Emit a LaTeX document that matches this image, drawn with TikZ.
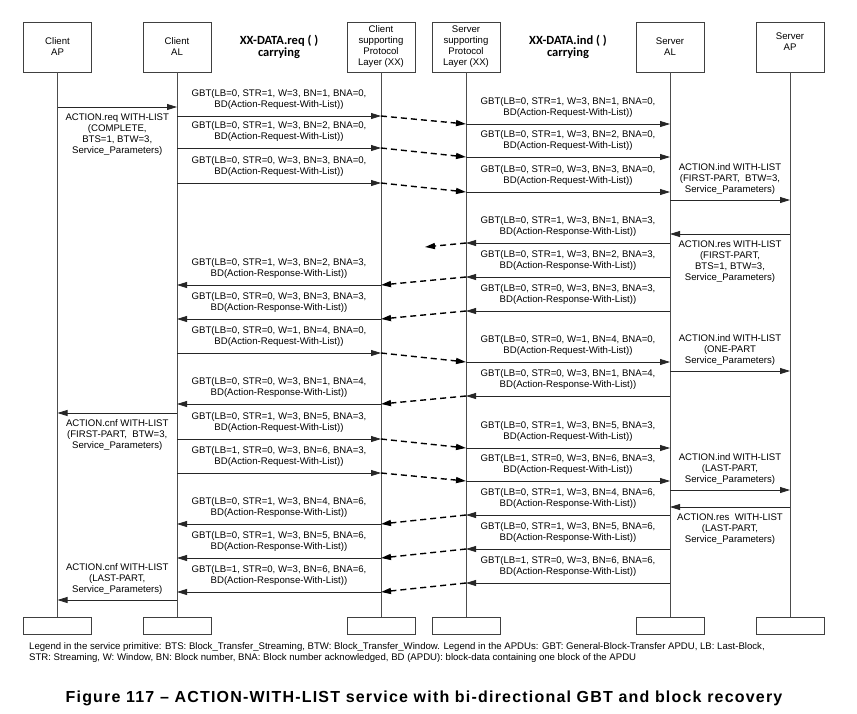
\documentclass[tikz,border=0pt]{standalone}
\usepackage{fontspec}
\setmainfont{Liberation Sans}
\newfontfamily\headfont{Carlito}
\newfontfamily\capfont[LetterSpace=7.5]{Liberation Sans}
\usetikzlibrary{arrows.meta}

\begin{document}
\begin{tikzpicture}[x=1pt,y=-1pt,
        box/.style = {draw=black!75, line width=0.9pt, minimum width=68pt, minimum height=50pt,
            inner sep=0pt, align=center, font=\fontsize{9.6}{11}\selectfont},
        life/.style = {draw=black!70, line width=0.9pt},
        msg/.style = {draw=black!85, line width=0.8pt, -{Triangle[length=10pt,width=6pt]}},
        lost/.style = {msg, draw=black, line width=1.4pt, dash pattern=on 6pt off 4pt},
        lbl/.style = {font=\fontsize{9.6}{11}\selectfont, align=center, inner sep=0pt},
        head/.style = {font=\headfont\bfseries\fontsize{12.5}{12}\selectfont, align=center, inner sep=0pt}]
    \fill [white] (0,0) rectangle (857,713);
    \useasboundingbox (0,0) rectangle (857,713);

    \node [box] (cap) at (57.5,47) {Client\\AP};
    \node [box] (cal) at (177,47) {Client\\AL};
    \node [box] (cxx) at (381,47) {Client\\supporting\\Protocol\\Layer (XX)};
    \node [box] (sxx) at (466,47) {Server\\supporting\\Protocol\\Layer (XX)};
    \node [box] (sal) at (670,47) {Server\\AL};
    \node [box] (sap) at (790,47) {Server\\AP\\~};

    \node [box, minimum height=17pt] (capb) at (57.5,625.5) {};
    \node [box, minimum height=17pt] (calb) at (177,625.5) {};
    \node [box, minimum height=17pt] (cxxb) at (381,625.5) {};
    \node [box, minimum height=17pt] (sxxb) at (466,625.5) {};
    \node [box, minimum height=17pt] (salb) at (670,625.5) {};
    \node [box, minimum height=17pt] (sapb) at (790,625.5) {};

    \foreach \n in {cap,cal,cxx,sxx,sal,sap}
        \draw [life] (\n) -- (\n b);

    \node [head] (reqhead) at (279,47) {XX-DATA.req ( )\\carrying};
    \node [head] (indhead) at (568,47) {XX-DATA.ind ( )\\carrying};

    \draw [msg] (cap |- 0,107) -- (cal |- 0,107)
        node [lbl, midway, below=6pt] {ACTION.req WITH-LIST\\(COMPLETE,\\BTS=1, BTW=3,\\Service\_Parameters)};

    \draw [msg] (cal |- 0,116) -- node [lbl, above=6pt] {GBT(LB=0, STR=1, W=3, BN=1, BNA=0,\\BD(Action-Request-With-List))} (cxx |- 0,116);
    \draw [lost] (cxx |- 0,116) -- (sxx |- 0,124);
    \draw [msg] (sxx |- 0,124) -- node [lbl, above=6pt] {GBT(LB=0, STR=1, W=3, BN=1, BNA=0,\\BD(Action-Request-With-List))} (sal |- 0,124);

    \draw [msg] (cal |- 0,148) -- node [lbl, above=6pt] {GBT(LB=0, STR=1, W=3, BN=2, BNA=0,\\BD(Action-Request-With-List))} (cxx |- 0,148);
    \draw [lost] (cxx |- 0,148) -- (sxx |- 0,157);
    \draw [msg] (sxx |- 0,157) -- node [lbl, above=6pt] {GBT(LB=0, STR=1, W=3, BN=2, BNA=0,\\BD(Action-Request-With-List))} (sal |- 0,157);

    \draw [msg] (cal |- 0,183) -- node [lbl, above=6pt] {GBT(LB=0, STR=0, W=3, BN=3, BNA=0,\\BD(Action-Request-With-List))} (cxx |- 0,183);
    \draw [lost] (cxx |- 0,183) -- (sxx |- 0,192);
    \draw [msg] (sxx |- 0,192) -- node [lbl, above=6pt] {GBT(LB=0, STR=0, W=3, BN=3, BNA=0,\\BD(Action-Request-With-List))} (sal |- 0,192);

    \draw [msg] (sal |- 0,200) -- node [lbl, above=5pt] {ACTION.ind WITH-LIST\\(FIRST-PART,~ BTW=3,\\Service\_Parameters)} (sap |- 0,200);
    \draw [msg] (sap |- 0,234) -- node [lbl, below=6pt] {ACTION.res WITH-LIST\\(FIRST-PART,\\BTS=1, BTW=3,\\Service\_Parameters)} (sal |- 0,234);

    \coordinate (drop) at (425,247);
    \draw [msg] (sal |- 0,243) -- node [lbl, above=6pt] {GBT(LB=0, STR=1, W=3, BN=1, BNA=3,\\BD(Action-Response-With-List))} (sxx |- 0,243);
    \draw [lost] (sxx |- 0,243) -- (drop);

    \draw [msg] (sal |- 0,277) -- node [lbl, above=6pt] {GBT(LB=0, STR=1, W=3, BN=2, BNA=3,\\BD(Action-Response-With-List))} (sxx |- 0,277);
    \draw [lost] (sxx |- 0,277) -- (cxx |- 0,285);
    \draw [msg] (cxx |- 0,285) -- node [lbl, above=6pt] {GBT(LB=0, STR=1, W=3, BN=2, BNA=3,\\BD(Action-Response-With-List))} (cal |- 0,285);

    \draw [msg] (sal |- 0,311) -- node [lbl, above=6pt] {GBT(LB=0, STR=0, W=3, BN=3, BNA=3,\\BD(Action-Response-With-List))} (sxx |- 0,311);
    \draw [lost] (sxx |- 0,311) -- (cxx |- 0,319);
    \draw [msg] (cxx |- 0,319) -- node [lbl, above=6pt] {GBT(LB=0, STR=0, W=3, BN=3, BNA=3,\\BD(Action-Response-With-List))} (cal |- 0,319);

    \draw [msg] (cal |- 0,353) -- node [lbl, above=6pt] {GBT(LB=0, STR=0, W=1, BN=4, BNA=0,\\BD(Action-Request-With-List))} (cxx |- 0,353);
    \draw [lost] (cxx |- 0,353) -- (sxx |- 0,362);
    \draw [msg] (sxx |- 0,362) -- node [lbl, above=6pt] {GBT(LB=0, STR=0, W=1, BN=4, BNA=0,\\BD(Action-Request-With-List))} (sal |- 0,362);

    \draw [msg] (sal |- 0,371) -- node [lbl, above=5pt] {ACTION.ind WITH-LIST\\(ONE-PART\\Service\_Parameters)} (sap |- 0,371);

    \draw [msg] (sal |- 0,396) -- node [lbl, above=6pt] {GBT(LB=0, STR=0, W=3, BN=1, BNA=4,\\BD(Action-Response-With-List))} (sxx |- 0,396);
    \draw [lost] (sxx |- 0,396) -- (cxx |- 0,404);
    \draw [msg] (cxx |- 0,404) -- node [lbl, above=6pt] {GBT(LB=0, STR=0, W=3, BN=1, BNA=4,\\BD(Action-Response-With-List))} (cal |- 0,404);

    \draw [msg] (cal |- 0,413) -- node [lbl, below=6pt] {ACTION.cnf WITH-LIST\\(FIRST-PART,~ BTW=3,\\Service\_Parameters)} (cap |- 0,413);

    \draw [msg] (cal |- 0,439) -- node [lbl, above=6pt] {GBT(LB=0, STR=1, W=3, BN=5, BNA=3,\\BD(Action-Request-With-List))} (cxx |- 0,439);
    \draw [lost] (cxx |- 0,439) -- (sxx |- 0,448);
    \draw [msg] (sxx |- 0,448) -- node [lbl, above=6pt] {GBT(LB=0, STR=1, W=3, BN=5, BNA=3,\\BD(Action-Request-With-List))} (sal |- 0,448);

    \draw [msg] (cal |- 0,473) -- node [lbl, above=6pt] {GBT(LB=1, STR=0, W=3, BN=6, BNA=3,\\BD(Action-Request-With-List))} (cxx |- 0,473);
    \draw [lost] (cxx |- 0,473) -- (sxx |- 0,481);
    \draw [msg] (sxx |- 0,481) -- node [lbl, above=6pt] {GBT(LB=1, STR=0, W=3, BN=6, BNA=3,\\BD(Action-Request-With-List))} (sal |- 0,481);

    \draw [msg] (sal |- 0,490) -- node [lbl, above=5pt] {ACTION.ind WITH-LIST\\(LAST-PART,\\Service\_Parameters)} (sap |- 0,490);
    \draw [msg] (sap |- 0,507) -- node [lbl, below=6pt] {ACTION.res~ WITH-LIST\\(LAST-PART,\\Service\_Parameters)} (sal |- 0,507);

    \draw [msg] (sal |- 0,515) -- node [lbl, above=6pt] {GBT(LB=0, STR=1, W=3, BN=4, BNA=6,\\BD(Action-Response-With-List))} (sxx |- 0,515);
    \draw [lost] (sxx |- 0,515) -- (cxx |- 0,524);
    \draw [msg] (cxx |- 0,524) -- node [lbl, above=6pt] {GBT(LB=0, STR=1, W=3, BN=4, BNA=6,\\BD(Action-Response-With-List))} (cal |- 0,524);

    \draw [msg] (sal |- 0,549) -- node [lbl, above=6pt] {GBT(LB=0, STR=1, W=3, BN=5, BNA=6,\\BD(Action-Response-With-List))} (sxx |- 0,549);
    \draw [lost] (sxx |- 0,549) -- (cxx |- 0,558);
    \draw [msg] (cxx |- 0,558) -- node [lbl, above=6pt] {GBT(LB=0, STR=1, W=3, BN=5, BNA=6,\\BD(Action-Response-With-List))} (cal |- 0,558);

    \draw [msg] (sal |- 0,583) -- node [lbl, above=6pt] {GBT(LB=1, STR=0, W=3, BN=6, BNA=6,\\BD(Action-Response-With-List))} (sxx |- 0,583);
    \draw [lost] (sxx |- 0,583) -- (cxx |- 0,592);
    \draw [msg] (cxx |- 0,592) -- node [lbl, above=6pt] {GBT(LB=1, STR=0, W=3, BN=6, BNA=6,\\BD(Action-Response-With-List))} (cal |- 0,592);

    \draw [msg] (cal |- 0,600) -- node [lbl, above=5pt] {ACTION.cnf WITH-LIST\\(LAST-PART,\\Service\_Parameters)} (cap |- 0,600);

    \node [lbl, align=left, anchor=north west, font=\fontsize{9.6}{11}\selectfont] (legend) at (29,642.5)
        {Legend in the service primitive: BTS: Block\_Transfer\_Streaming, BTW: Block\_Transfer\_Window. Legend in the APDUs: GBT: General-Block-Transfer APDU, LB: Last-Block,\\
         STR: Streaming, W: Window, BN: Block number, BNA: Block number acknowledged, BD (APDU): block-data containing one block of the APDU};
    \node [font=\capfont\bfseries\fontsize{16}{18}\selectfont, inner sep=0pt] (caption) at (424,698)
        {Figure 117 – ACTION-WITH-LIST service with bi-directional GBT and block recovery};
\end{tikzpicture}
\end{document}
